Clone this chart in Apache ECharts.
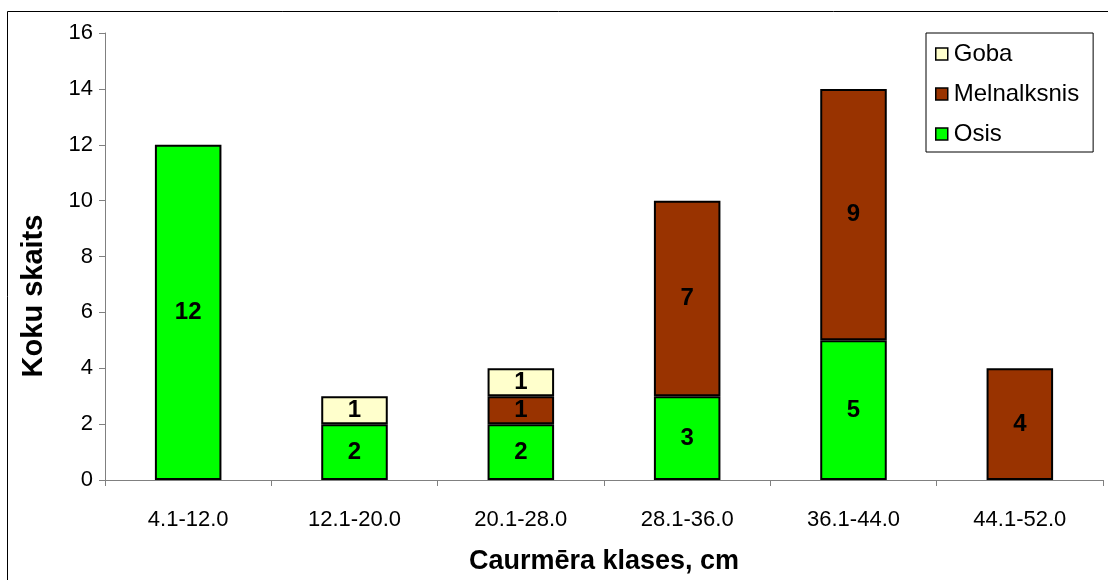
<!DOCTYPE html>
<html>
<head>
<meta charset="utf-8">
<script src="https://cdn.jsdelivr.net/npm/echarts@6/dist/echarts.min.js"></script>
<style>
html,body{margin:0;padding:0;background:#fff;}
#chart{width:1108px;height:580px;}
</style>
</head>
<body>
<div id="chart"></div>
<script>
const categories = ['4.1-12.0','12.1-20.0','20.1-28.0','28.1-36.0','36.1-44.0','44.1-52.0'];
const osis = [12, 2, 2, 3, 5, 0];
const melnalksnis = [0, 0, 1, 7, 9, 4];
const goba = [0, 1, 1, 0, 0, 0];
const seriesNames = ['Osis', 'Melnalksnis', 'Goba'];
const legendOrder = ['Goba', 'Melnalksnis', 'Osis'];
const yTitle = 'Koku skaits';
const xTitle = 'Caurmēra klases, cm';

const FONT = '"Liberation Sans", Arial, sans-serif';
const colors = {Osis:'#00FF00', Melnalksnis:'#993300', Goba:'#FFFFCC'};
const seriesData = {Osis: osis, Melnalksnis: melnalksnis, Goba: goba};

const chart = echarts.init(document.getElementById('chart'), null, {renderer:'canvas'});

const series = seriesNames.map(name => ({
  name: name,
  type: 'bar',
  stack: 'total',
  barCategoryGap: '60%',
  data: seriesData[name].map(v => v === 0 ? '-' : v),
  itemStyle: {color: colors[name], borderColor: '#000', borderWidth: 2},
  label: {
    show: true,
    position: 'inside',
    color: '#000',
    fontFamily: FONT,
    fontWeight: 'bold',
    fontSize: 24
  },
  emphasis: {disabled: true}
}));

chart.setOption({
  animation: false,
  backgroundColor: '#fff',
  textStyle: {fontFamily: FONT},
  graphic: [{
    type: 'rect',
    shape: {x: 7.5, y: 11.5, width: 1200, height: 700},
    style: {fill: 'none', stroke: '#000', lineWidth: 1},
    silent: true,
    z: -10
  }, {
    type: 'text',
    x: 34,
    y: 296,
    rotation: Math.PI / 2,
    style: {
      text: yTitle,
      fontFamily: FONT,
      fontSize: 29,
      fontWeight: 'bold',
      fill: '#000',
      align: 'center',
      verticalAlign: 'middle'
    },
    silent: true
  }],
  grid: {left: 105, top: 33, right: 5, bottom: 97, containLabel: false},
  legend: {
    data: legendOrder,
    orient: 'vertical',
    left: 926,
    top: 33,
    itemWidth: 12,
    itemHeight: 12,
    itemGap: 16,
    padding: [9, 14, 6, 9],
    borderColor: '#000',
    borderWidth: 1,
    backgroundColor: '#fff',
    icon: 'rect',
    itemStyle: {borderColor: '#000', borderWidth: 1.5},
    textStyle: {fontFamily: FONT, fontSize: 24, color: '#000', padding: [0,0,0,1]}
  },
  xAxis: {
    type: 'category',
    data: categories,
    name: xTitle,
    nameLocation: 'middle',
    nameGap: 68,
    nameTextStyle: {fontFamily: FONT, fontSize: 27, fontWeight: 'bold', color: '#000'},
    axisLine: {lineStyle: {color: '#808080', width: 1}},
    axisTick: {show: true, alignWithLabel: false, interval: 0, length: 6, lineStyle: {color: '#808080'}},
    axisLabel: {interval: 0, margin: 29, fontFamily: FONT, fontSize: 22, color: '#000'},
    splitLine: {show: false}
  },
  yAxis: {
    type: 'value',
    min: 0,
    max: 16,
    interval: 2,
    axisLine: {show: true, lineStyle: {color: '#808080', width: 1}},
    axisTick: {show: true, length: 6, lineStyle: {color: '#808080'}},
    axisLabel: {margin: 12, fontFamily: FONT, fontSize: 22, color: '#000'},
    splitLine: {show: false}
  },
  series: series
});
</script>
</body>
</html>
